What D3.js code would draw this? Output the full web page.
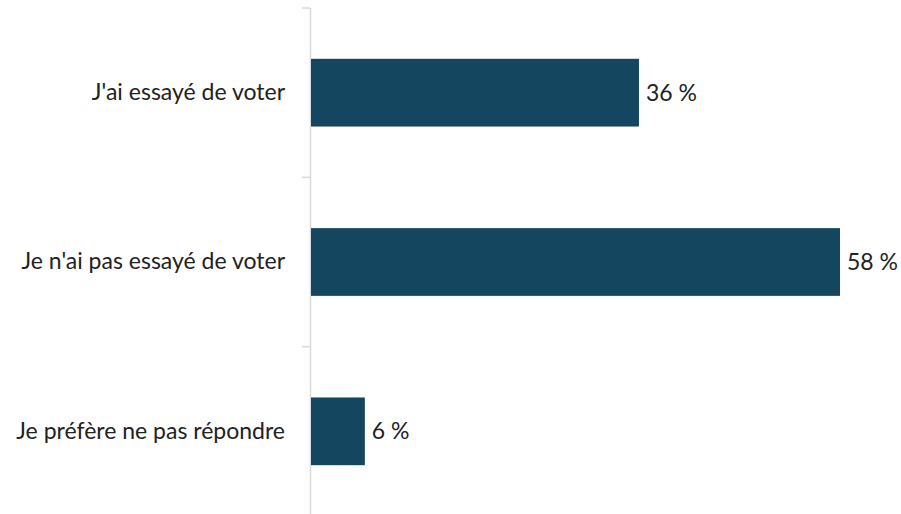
<!DOCTYPE html>
<html>
<head>
<meta charset="utf-8">
<script src="https://cdn.jsdelivr.net/npm/d3@7"></script>
<style>
  html, body { margin: 0; padding: 0; background: #ffffff; }
  svg { display: block; }
</style>
</head>
<body>
<svg id="chart" width="901" height="514"></svg>
<script>
// Survey responses
const categories = ["J'ai essayé de voter", "Je n'ai pas essayé de voter", "Je préfère ne pas répondre"];
const values = [36, 58, 6];
const valueLabels = ["36 %", "58 %", "6 %"];

const svg = d3.select("#chart");
const plotLeft = 310, plotRight = 840, plotTop = 8, plotBottom = 516;

const x = d3.scaleLinear().domain([0, 58]).range([plotLeft, plotRight]);
const y = d3.scaleBand().domain(categories).range([plotTop, plotBottom]).paddingInner(0.6).paddingOuter(0.3);

const font = "Lato, 'Open Sans', sans-serif";
const fontSize = 23;

// Category axis on the left
const yAxis = d3.axisLeft(y).tickSize(0).tickPadding(25);
const gAxis = svg.append("g").attr("transform", `translate(${plotLeft},0)`).call(yAxis);
gAxis.select(".domain").remove();
gAxis.selectAll("text")
  .attr("font-family", font)
  .attr("font-size", fontSize)
  .attr("fill", "#222222");

// Vertical axis line with band-boundary ticks
svg.append("line")
  .attr("x1", plotLeft + 0.5).attr("x2", plotLeft + 0.5)
  .attr("y1", plotTop).attr("y2", plotBottom)
  .attr("stroke", "#d9d9d9").attr("stroke-width", 1.5);

const boundaries = d3.range(categories.length + 1).map(i => plotTop + i * (plotBottom - plotTop) / categories.length);
svg.selectAll("line.tick")
  .data(boundaries)
  .join("line")
  .attr("class", "tick")
  .attr("x1", plotLeft - 8).attr("x2", plotLeft)
  .attr("y1", d => d).attr("y2", d => d)
  .attr("stroke", "#d9d9d9").attr("stroke-width", 1.5);

// Bars
svg.selectAll("rect.bar")
  .data(categories)
  .join("rect")
  .attr("class", "bar")
  .attr("x", x(0) + 1)
  .attr("y", d => y(d))
  .attr("width", (d, i) => x(values[i]) - x(0) - 1)
  .attr("height", y.bandwidth())
  .attr("fill", "#15465f");

// Value labels
svg.selectAll("text.val")
  .data(categories)
  .join("text")
  .attr("class", "val")
  .attr("x", (d, i) => x(values[i]) + 7)
  .attr("y", d => y(d) + y.bandwidth() / 2)
  .attr("dy", "0.35em")
  .attr("font-family", font)
  .attr("font-size", fontSize)
  .attr("fill", "#222222")
  .text((d, i) => valueLabels[i]);
</script>
</body>
</html>
